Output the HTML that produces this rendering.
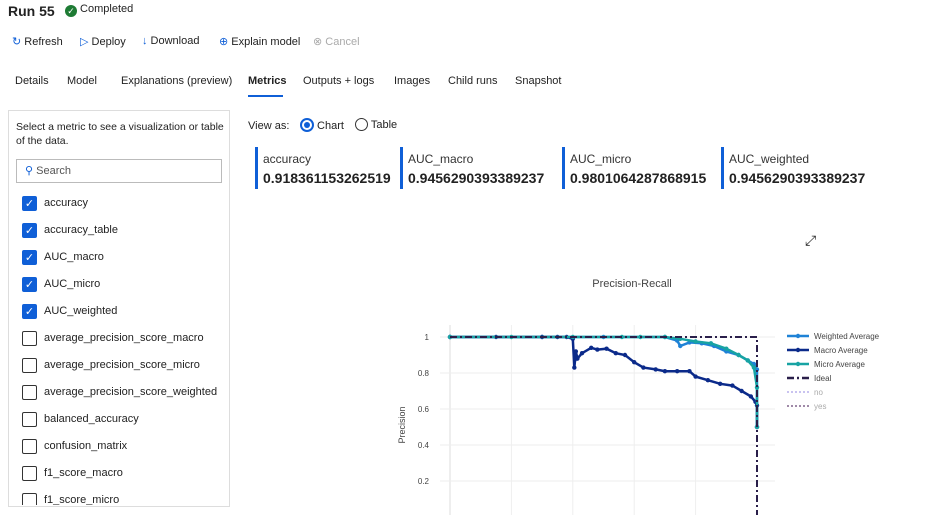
<!DOCTYPE html>
<html><head><meta charset="utf-8"><style>
body{margin:0;width:952px;height:515px;overflow:hidden;background:#fff;font-family:"Liberation Sans",sans-serif;color:#222;position:relative}
.a{position:absolute;white-space:nowrap}
.cb{position:absolute;left:22px;width:15px;height:15px;border:1px solid #333;border-radius:2px;box-sizing:border-box}
.cb.on{background:#0f5fd7;border-color:#0f5fd7;color:#fff;font-size:11px;line-height:14px;text-align:center}
.lbl{position:absolute;left:44px;font-size:11px;color:#222}
.card{position:absolute;top:147px;height:42px;border-left:3px solid #0f5fd7;padding-left:5px}
.card .t{font-size:12px;color:#333;margin-top:5px}
.card .v{font-size:14px;font-weight:bold;margin-top:4px;letter-spacing:0}
</style></head><body>
<div class="a" style="left:8px;top:3px;font-size:14px;font-weight:bold">Run 55</div>
<div class="a" style="left:65px;top:3px;font-size:11px"><span style="display:inline-block;width:12px;height:12px;border-radius:6px;background:#1e7b34;color:#fff;font-size:9px;text-align:center;line-height:12px;vertical-align:-2px">✓</span> Completed</div>
<div class="a" style="left:12px;top:35px;font-size:11px"><span style="color:#0f5fd7">↻</span> Refresh</div>
<div class="a" style="left:80px;top:35px;font-size:11px"><span style="color:#0f5fd7">▷</span> Deploy</div>
<div class="a" style="left:142px;top:35px;font-size:11px"><span style="color:#0f5fd7">↓</span> Download</div>
<div class="a" style="left:219px;top:35px;font-size:11px"><span style="color:#0f5fd7">⊕</span> Explain model</div>
<div class="a" style="left:313px;top:35px;font-size:11px;color:#aaa">⊗ Cancel</div>
<div class="a" style="left:15px;top:75px;font-size:11px">Details</div>
<div class="a" style="left:67px;top:75px;font-size:11px">Model</div>
<div class="a" style="left:121px;top:75px;font-size:11px">Explanations (preview)</div>
<div class="a" style="left:248px;top:75px;font-size:11px;font-weight:bold">Metrics</div>
<div class="a" style="left:248px;top:95px;width:35px;height:2px;background:#0f5fd7"></div>
<div class="a" style="left:303px;top:75px;font-size:11px">Outputs + logs</div>
<div class="a" style="left:394px;top:75px;font-size:11px">Images</div>
<div class="a" style="left:448px;top:75px;font-size:11px">Child runs</div>
<div class="a" style="left:515px;top:75px;font-size:11px">Snapshot</div>

<div class="a" style="left:8px;top:110px;width:222px;height:397px;border:1px solid #ddd;box-sizing:border-box"></div>
<div class="a" style="left:16px;top:120px;font-size:10.5px;line-height:14px;white-space:normal;width:210px">Select a metric to see a visualization or table of the data.</div>
<div class="a" style="left:16px;top:159px;width:206px;height:24px;border:1px solid #bbb;box-sizing:border-box;font-size:11px;line-height:22px;padding-left:8px;color:#555"><span style="color:#0f5fd7">⚲</span> Search</div>
<div id="list"></div>

<div class="a" style="left:248px;top:120px;font-size:11px">View as:</div>
<div class="a" style="left:300px;top:118px;font-size:11px"><span style="display:inline-block;width:10px;height:10px;border:2px solid #0f5fd7;border-radius:7px;vertical-align:-3px;position:relative"><span style="position:absolute;left:2px;top:2px;width:6px;height:6px;border-radius:3px;background:#0f5fd7"></span></span> Chart</div>
<div class="a" style="left:355px;top:118px;font-size:11px"><span style="display:inline-block;width:11px;height:11px;border:1.5px solid #333;border-radius:7px;vertical-align:-3px"></span> Table</div>

<div class="card a" style="left:255px"><div class="t">accuracy</div><div class="v">0.918361153262519</div></div>
<div class="card a" style="left:400px"><div class="t">AUC_macro</div><div class="v">0.9456290393389237</div></div>
<div class="card a" style="left:562px"><div class="t">AUC_micro</div><div class="v">0.9801064287868915</div></div>
<div class="card a" style="left:721px"><div class="t">AUC_weighted</div><div class="v">0.9456290393389237</div></div>
<div class="a" style="left:805px;top:232px;font-size:14px">⤢</div>

<svg class="a" id="chart" style="left:0;top:0" width="952" height="515"></svg>

<script>
const metrics=["accuracy","accuracy_table","AUC_macro","AUC_micro","AUC_weighted","average_precision_score_macro","average_precision_score_micro","average_precision_score_weighted","balanced_accuracy","confusion_matrix","f1_score_macro","f1_score_micro"];
const list=document.getElementById('list');
metrics.forEach((m,i)=>{
 const y=196+i*27;
 const c=document.createElement('div');c.className='cb'+(i<5?' on':'');c.style.top=y+'px';if(i<5)c.textContent='✓';
 
 
 list.appendChild(c);
 const l=document.createElement('div');l.className='lbl';l.style.top=(y+1)+'px';l.textContent=m;
 
 
 list.appendChild(l);
});
list.style.cssText='position:absolute;left:0;top:0;width:230px;height:505px;overflow:hidden';
</script>
<script>
const yTicks=[0.2,0.4,0.6,0.8,1];
const yTickLabels=["0.2","0.4","0.6","0.8","1"];
const xGrid=[0,0.2,0.4,0.6,0.8];
const macroRecall=[0,0.15,0.3,0.35,0.38,0.4,0.405,0.41,0.415,0.43,0.46,0.48,0.51,0.54,0.57,0.6,0.63,0.67,0.7,0.74,0.78,0.8,0.84,0.88,0.92,0.95,0.98,0.995,1,1];
const macroPrec=[1,1,1,1,1,0.99,0.83,0.92,0.88,0.91,0.94,0.93,0.935,0.91,0.9,0.86,0.83,0.82,0.81,0.81,0.81,0.78,0.76,0.74,0.73,0.7,0.67,0.64,0.62,0.5];
const weightRecall=[0,0.3,0.5,0.7,0.74,0.75,0.78,0.82,0.86,0.9,0.94,0.97,0.99,1,1];
const weightPrec=[1,1,1,1,0.98,0.95,0.97,0.965,0.95,0.92,0.9,0.87,0.85,0.82,0.5];
const microRecall=[0,0.2,0.4,0.56,0.62,0.7,0.75,0.8,0.85,0.9,0.94,0.97,0.99,1,1];
const microPrec=[1,1,1,1,1,1,0.99,0.975,0.965,0.935,0.9,0.87,0.83,0.72,0.5];
const legendNames=["Weighted Average","Macro Average","Micro Average","Ideal","no","yes"];
const X=v=>450+v*307, Y=v=>517-v*180;
const s=document.getElementById('chart');const NS='http://www.w3.org/2000/svg';
function mk(t,a,name){const e=document.createElementNS(NS,t);for(const k in a)e.setAttribute(k,a[k]);
 
 
 s.appendChild(e);return e;}
mk('text',{x:632,y:287,'font-size':11,fill:'#444','text-anchor':'middle','font-family':'Liberation Sans'},'chart-title').textContent='Precision-Recall';
xGrid.forEach((g,i)=>mk('line',{x1:X(g),x2:X(g),y1:325,y2:515,stroke:'#eee','stroke-width':i==0?2:1},'x-gridline'));
yTicks.forEach((t,i)=>{mk('line',{x1:440,x2:775,y1:Y(t),y2:Y(t),stroke:'#eee'},'y-gridline');
 const tx=mk('text',{x:429,y:Y(t)+3,'font-size':8,fill:'#444','text-anchor':'end','font-family':'Liberation Sans'},'y-tick-label');tx.textContent=yTickLabels[i];});
const yt=mk('text',{x:405,y:425,'font-size':9,fill:'#444','text-anchor':'middle',transform:'rotate(-90 405 425)','font-family':'Liberation Sans'},'y-axis-title');yt.textContent='Precision';
function series(rx,py,col,name){
 mk('polyline',{points:rx.map((r,i)=>X(r)+','+Y(py[i])).join(' '),fill:'none',stroke:col,'stroke-width':2.5},name+'-line');
 rx.forEach((r,i)=>mk('circle',{cx:X(r),cy:Y(py[i]),r:2.2,fill:col},name+'-point'));}
series(weightRecall,weightPrec,'#1f82d6','weighted-average');
series(macroRecall,macroPrec,'#0b2a8a','macro-average');
series(microRecall,microPrec,'#17a3a3','micro-average');
mk('polyline',{points:`${X(0)},${Y(1)} ${X(1)},${Y(1)} ${X(1)},515`,fill:'none',stroke:'#2a1f4a','stroke-width':2,'stroke-dasharray':'7,3,2,3'},'ideal-line');
const lc=['#1f82d6','#0b2a8a','#17a3a3','#2a1f4a','#c9c3f0','#a08aa8'];
legendNames.forEach((n,i)=>{const y=336+i*14;
 const da=i==3?'7,3,2,3':(i>3?'2,2':'none');
 mk('line',{x1:787,x2:809,y1:y,y2:y,stroke:lc[i],'stroke-width':i>3?2:2.5,'stroke-dasharray':da},'legend-swatch');
 if(i<3)mk('circle',{cx:798,cy:y,r:2.2,fill:lc[i]},'legend-marker');
 const t=mk('text',{x:814,y:y+3,'font-size':8,fill:i>3?'#aaa':'#444','font-family':'Liberation Sans'},'legend-entry');t.textContent=n;});
</script>
</body></html>
